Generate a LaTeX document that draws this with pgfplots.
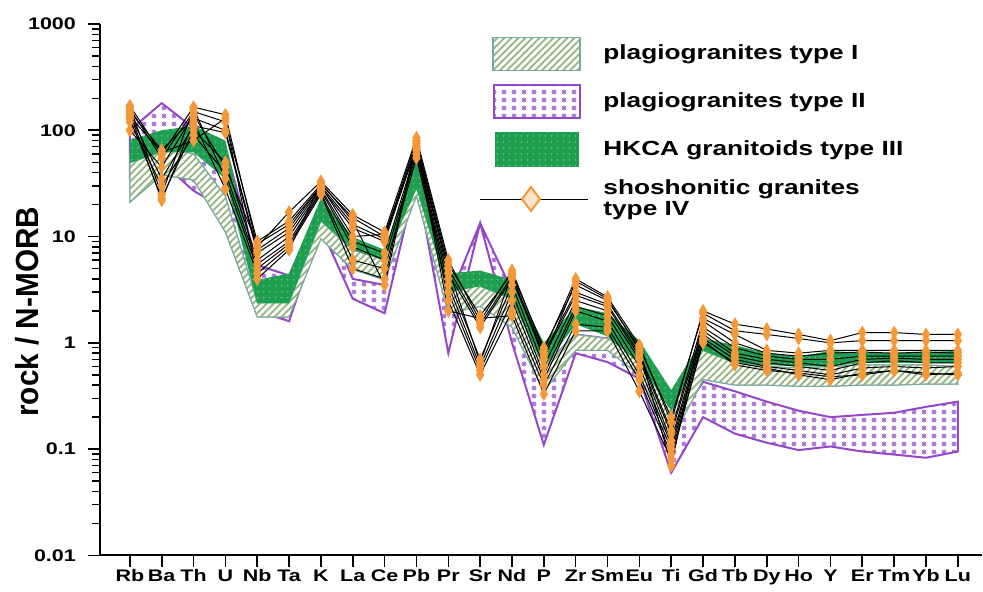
\documentclass[border=0pt]{standalone}
\usepackage{pgfplots}
\pgfplotsset{compat=1.18}
\usepackage{pgfplotstable}
\usetikzlibrary{patterns}
\usepackage{fontspec}
\setmainfont{Liberation Sans}
\newfontfamily\tickfont[FakeStretch=1.28]{Liberation Sans}
\newfontfamily\labfont[FakeStretch=0.93]{Liberation Sans}
\newcommand\tfont{\tickfont\bfseries\fontsize{8.4}{10}\selectfont}
\newcommand\legfont{\tickfont\bfseries\fontsize{10.25}{10.5}\selectfont}

\definecolor{hkca}{RGB}{30,158,80}
\definecolor{hkcadot}{RGB}{95,190,120}
\definecolor{hatchc}{RGB}{150,182,128}
\definecolor{hatchedge}{RGB}{120,170,160}
\definecolor{purpc}{RGB}{150,70,200}
\definecolor{purpast}{RGB}{165,105,215}
\definecolor{dorange}{RGB}{245,152,55}

\pgfdeclarepatternformonly{hatchI}{\pgfqpoint{-1pt}{-1pt}}{\pgfqpoint{4.5pt}{4.5pt}}{\pgfqpoint{3.5pt}{3.5pt}}{%
  \pgfsetlinewidth{0.9pt}%
  \pgfpathmoveto{\pgfqpoint{-0.2pt}{-0.2pt}}%
  \pgfpathlineto{\pgfqpoint{3.7pt}{3.7pt}}%
  \pgfusepath{stroke}}
\pgfdeclarepatternformonly{asterI}{\pgfqpoint{0pt}{0pt}}{\pgfqpoint{5pt}{4pt}}{\pgfqpoint{5pt}{4pt}}{%
  \pgfsetlinewidth{0.4pt}%
  \pgfpathmoveto{\pgfqpoint{1.2pt}{2pt}}\pgfpathlineto{\pgfqpoint{3.8pt}{2pt}}%
  \pgfpathmoveto{\pgfqpoint{2.5pt}{0.7pt}}\pgfpathlineto{\pgfqpoint{2.5pt}{3.3pt}}%
  \pgfpathmoveto{\pgfqpoint{1.6pt}{1.1pt}}\pgfpathlineto{\pgfqpoint{3.4pt}{2.9pt}}%
  \pgfpathmoveto{\pgfqpoint{1.6pt}{2.9pt}}\pgfpathlineto{\pgfqpoint{3.4pt}{1.1pt}}%
  \pgfusepath{stroke}}

\pgfplotstableread{
x s1 s2 s3 s4 s5 s6 s7 s8 s9 s10
0 170 160 150 140 130 120 165 145 135 100
1 60 55 65 35 23 30 25 22 62 45
2 165 150 130 110 100 90 160 120 80 140
3 140 120 100 95 50 40 35 28 130 45
4 8 9 7.5 7 6 5.5 5 4.5 4 8.5
5 17 14 12 11 10 9 8.5 8 7.5 13
6 33 31 30 29 28 27 26 25 32 30
7 16 15 13 12 9 8 6 5 14 10
8 11 10 9.5 9 7 6 5 4 3.5 10.5
9 85 80 75 70 65 60 55 78 72 68
10 6.0 5.5 5.0 4.5 4.0 3.5 3.0 2.5 2.0 5.0
11 1.6 1.8 1.5 1.4 0.7 0.6 0.55 0.5 1.7 0.65
12 4.8 4.5 4.2 4.0 3.5 3.0 2.5 2.0 1.8 4.4
13 0.85 0.9 0.8 0.75 0.6 0.5 0.45 0.4 0.33 0.7
14 4.0 3.5 3.0 2.8 2.5 2.2 2.0 1.5 1.3 3.8
15 2.7 2.5 2.3 2.2 2.0 1.8 1.6 1.4 1.3 2.6
16 0.95 0.9 0.8 0.75 0.7 0.6 0.5 0.45 0.35 0.85
17 0.18 0.2 0.15 0.14 0.12 0.11 0.1 0.09 0.08 0.07
18 2.0 1.9 1.6 1.4 1.3 1.2 1.1 1.0 1.05 1.7
19 1.5 1.3 1.0 0.9 0.8 0.75 0.7 0.65 0.62 1.2
20 1.35 1.2 0.8 0.75 0.7 0.65 0.6 0.58 0.55 0.85
21 1.2 1.1 0.75 0.7 0.65 0.6 0.55 0.5 0.52 0.8
22 1.05 1.0 0.8 0.7 0.6 0.55 0.5 0.45 0.48 0.85
23 1.25 1.05 0.82 0.75 0.7 0.65 0.58 0.52 0.5 0.85
24 1.25 1.05 0.8 0.75 0.72 0.68 0.6 0.55 0.55 0.85
25 1.2 1.05 0.82 0.75 0.7 0.65 0.58 0.52 0.5 0.85
26 1.2 1.05 0.8 0.75 0.7 0.65 0.6 0.5 0.52 0.85
}\ivdata

\begin{document}
\begin{tikzpicture}
\begin{axis}[
  name=ax,
  scale only axis, width=441.5pt, height=266pt,
  ymode=log, ymin=0.01, ymax=1000,
  xmin=-0.941, xmax=26.76,
  axis x line*=bottom, axis y line*=left,
  axis line style={line width=1pt, black},
  tick align=outside,
  major tick length=6pt, minor tick length=3.8pt,
  tick style={black, line width=0.8pt},
  minor tick style={line width=0.7pt},
  xtick={0,...,26},
  xticklabels={Rb,Ba,Th,U,Nb,Ta,K,La,Ce,Pb,Pr,Sr,Nd,P,Zr,Sm,Eu,Ti,Gd,Tb,Dy,Ho,Y,Er,Tm,Yb,Lu},
  xticklabel style={font=\tfont, yshift=2.5pt},
  ytick={0.01,0.1,1,10,100,1000},
  yticklabels={0.01,0.1,1,10,100,1000},
  minor ytick={0.02,0.03,0.04,0.05,0.06,0.07,0.08,0.09,0.2,0.3,0.4,0.5,0.6,0.7,0.8,0.9,2,3,4,5,6,7,8,9,20,30,40,50,60,70,80,90,200,300,400,500,600,700,800,900},
  yticklabel style={font=\tfont, xshift=-2.5pt},
  ylabel={rock / N-MORB},
  ylabel style={at={(axis description cs:-0.0827,0.4586)}, anchor=center, font=\labfont\bfseries\fontsize{16}{18}\selectfont},
  legend style={at={(axis description cs:0.4304,0.9756)}, anchor=north west, draw=none, fill=none,
    inner sep=0pt, outer sep=0pt, row sep=6.5pt, column sep=7.5pt,
    nodes={inner sep=0pt, align=left, font=\legfont}},
  legend cell align=left,
]
% type II (purple)
\addplot[draw=purpc, line width=1pt, pattern=asterI, pattern color=purpast, forget plot] coordinates {
(0,100)(1,180)(2,105)(3,70)(4,5.4)(5,4.3)(6,20)(7,4.0)(8,3.5)(9,60)(10,2.5)(11,13.4)(12,3.1)(13,0.6)(14,1.2)(15,1.1)(16,0.7)(17,0.15)(18,0.43)(19,0.35)(20,0.28)(21,0.23)(22,0.20)(23,0.21)(24,0.22)(25,0.25)(26,0.28)
(26,0.095)(25,0.083)(24,0.089)(23,0.095)(22,0.106)(21,0.098)(20,0.115)(19,0.14)(18,0.2)(17,0.06)(16,0.46)(15,0.66)(14,0.8)(13,0.11)(12,1.0)(11,13.4)(10,0.8)(9,35)(8,1.9)(7,2.6)(6,12)(5,1.6)(4,2.0)(3,18)(2,27)(1,50)(0,36)
} -- cycle;
% type I (hatch)
\addplot[draw=hatchedge, line width=0.5pt, fill=white, postaction={pattern=hatchI, pattern color=hatchc}, forget plot] coordinates {
(0,60)(1,70)(2,60)(3,24)(4,2.4)(5,2.4)(6,14)(7,7.5)(8,6.0)(9,45)(10,3.4)(11,3.4)(12,2.6)(13,0.6)(14,1.2)(15,1.1)(16,0.75)(17,0.25)(18,0.9)(19,0.65)(20,0.6)(21,0.58)(22,0.6)(23,0.62)(24,0.62)(25,0.62)(26,0.6)
(26,0.41)(25,0.41)(24,0.40)(23,0.40)(22,0.39)(21,0.39)(20,0.40)(19,0.40)(18,0.45)(17,0.12)(16,0.5)(15,0.85)(14,0.85)(13,0.35)(12,1.4)(11,2.2)(10,1.9)(9,24)(8,3.9)(7,4.9)(6,9.5)(5,1.75)(4,1.75)(3,11)(2,34)(1,38)(0,21)
} -- cycle;
% type III (green)
\addplot[draw=none, fill=hkca, postaction={pattern=dots, pattern color=hkcadot}, forget plot] coordinates {
(0,81)(1,100)(2,110)(3,80)(4,3.9)(5,4.5)(6,23)(7,9.9)(8,7.5)(9,55)(10,4.5)(11,4.8)(12,3.9)(13,1.0)(14,2.2)(15,1.9)(16,1.05)(17,0.36)(18,1.1)(19,0.95)(20,0.8)(21,0.74)(22,0.84)(23,0.8)(24,0.8)(25,0.82)(26,0.84)
(26,0.65)(25,0.65)(24,0.65)(23,0.65)(22,0.6)(21,0.6)(20,0.62)(19,0.64)(18,0.84)(17,0.23)(16,0.64)(15,1.15)(14,1.5)(13,0.59)(12,2.6)(11,3.4)(10,3.0)(9,28)(8,6.0)(7,7.5)(6,14)(5,2.35)(4,2.35)(3,35)(2,62)(1,62)(0,49)
} -- cycle;
% type IV lines
\pgfplotsinvokeforeach{1,...,10}{
  \addplot[black, line width=0.5pt, forget plot] table[x=x, y=s#1]{\ivdata};
}
\pgfplotsinvokeforeach{1,...,10}{
  \addplot[only marks, mark=diamond*, mark size=3.2pt, mark options={fill=dorange, draw=dorange, xscale=0.8, line width=0.3pt}, forget plot] table[x=x, y=s#1]{\ivdata};
}
% legend
\addlegendimage{legend image code/.code={
  \path[draw=none, fill=none] (0pt,0pt) -- (54pt,0pt);
  \fill[white, draw=none] (6.5pt,-8.25pt) rectangle (50pt,8.25pt);
  \path[draw=none, pattern=hatchI, pattern color=hatchc] (6.5pt,-8.25pt) rectangle (50pt,8.25pt);
  \draw[hatchedge, fill=none, line width=0.6pt] (6.5pt,-8.25pt) rectangle (50pt,8.25pt);}}
\addlegendentry{plagiogranites type I}
\addlegendimage{legend image code/.code={
  \path[draw=none, fill=none] (0pt,0pt) -- (54pt,0pt);
  \path[draw=none, pattern=asterI, pattern color=purpast] (7pt,-8.25pt) rectangle (50pt,8.25pt);
  \draw[purpc, fill=none, line width=0.8pt] (7pt,-8.25pt) rectangle (50pt,8.25pt);}}
\addlegendentry{plagiogranites type II}
\addlegendimage{legend image code/.code={
  \path[draw=none, fill=none] (0pt,0pt) -- (54pt,0pt);
  \fill[hkca, draw=none] (7.5pt,-8.75pt) rectangle (49.5pt,8.75pt);
  \path[draw=none, pattern=dots, pattern color=hkcadot] (7.5pt,-8.75pt) rectangle (49.5pt,8.75pt);}}
\addlegendentry{HKCA granitoids type III}
\addlegendimage{legend image code/.code={
  \draw[black, line width=0.5pt] (0pt,0pt) -- (54pt,0pt);
  \draw[mark=diamond*, mark size=6pt, mark options={fill=dorange!25, draw=dorange, line width=1pt}] plot coordinates {(25.5pt,0pt)};}}
\addlegendentry{shoshonitic granites\\type IV}
\end{axis}
\path ([xshift=-50pt,yshift=-18pt]ax.south west) rectangle ([yshift=12pt]ax.north east);
\end{tikzpicture}
\end{document}
